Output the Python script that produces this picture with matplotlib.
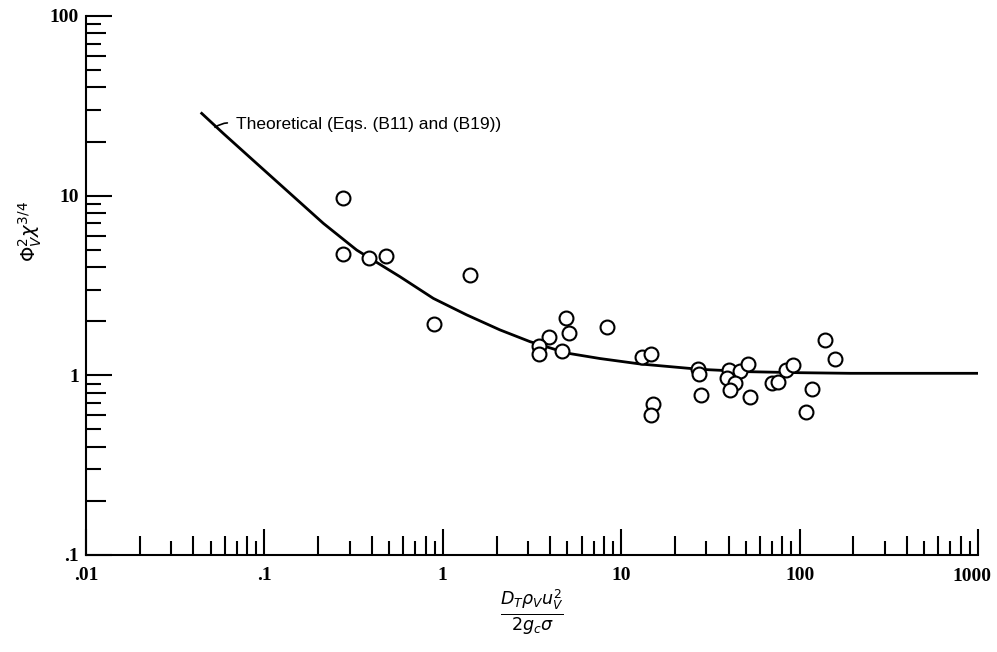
import numpy as np
import matplotlib.pyplot as plt
from matplotlib.ticker import FixedLocator, FixedFormatter, NullFormatter

# curva teórica (Eqs. B11 y B19)
curva_x = [0.0445, 0.0588, 0.0905, 0.139, 0.214, 0.329, 0.575, 0.885, 1.36, 2.09,
           3.08, 4.95, 7.6, 12.8, 27.6, 52.7, 100, 192, 1000]
curva_y = [28.7, 22.2, 15.1, 10.3, 7.01, 4.98, 3.54, 2.68, 2.17, 1.79,
           1.54, 1.33, 1.24, 1.156, 1.08, 1.047, 1.034, 1.026, 1.026]

# datos experimentales
datos_x = [0.276, 0.276, 0.386, 0.48, 1.42, 0.893,
           4.90, 3.94, 5.12, 8.32, 3.47, 3.47, 4.68,
           13.1, 14.7, 15.1, 14.6,
           27.0, 27.3, 28.1, 40.1, 39.2, 46.3, 43.4, 40.7, 51.6, 52.7,
           69.8, 76.0, 83.9, 92.2, 139, 158, 118, 108]
datos_y = [9.7, 4.73, 4.5, 4.6, 3.62, 1.93,
           2.08, 1.63, 1.71, 1.86, 1.46, 1.31, 1.37,
           1.26, 1.31, 0.695, 0.60,
           1.08, 1.02, 0.777, 1.07, 0.966, 1.06, 0.902, 0.828, 1.156, 0.76,
           0.91, 0.92, 1.07, 1.137, 1.57, 1.23, 0.842, 0.625]

xt = [0.01, 0.1, 1, 10, 100, 1000]
xt_labels = ['.01', '.1', '1', '10', '100', '1000']
yt = [0.1, 1, 10, 100]
yt_labels = ['.1', '1', '10', '100']

fig = plt.figure(figsize=(9.97, 6.52), dpi=100)
ax = fig.add_axes([0.0863, 0.1488, 0.8946, 0.8267])

ax.plot(curva_x, curva_y, color='black', lw=2.0)
ax.plot(datos_x, datos_y, 'o', ms=10, mfc='white', mec='black', mew=1.5)

ax.set_xscale('log')
ax.set_yscale('log')
ax.set_xlim(0.01, 1000)
ax.set_ylim(0.1, 100)

for s in ['top', 'right']:
    ax.spines[s].set_visible(False)
for s in ['left', 'bottom']:
    ax.spines[s].set_linewidth(1.5)

fuente = {'family': 'Liberation Serif', 'weight': 'bold', 'size': 14}

def marcas(eje, mayores, etiquetas, largo_may, largo_par, largo_impar):
    menores = []
    for d in mayores[:-1]:
        for k in range(2, 10):
            menores.append(d * k)
    eje.set_major_locator(FixedLocator(mayores))
    eje.set_major_formatter(FixedFormatter(etiquetas))
    eje.set_minor_locator(FixedLocator(menores))
    eje.set_minor_formatter(NullFormatter())
    for t in eje.get_major_ticks(len(mayores)):
        t.tick1line.set_markersize(largo_may)
    for i, t in enumerate(eje.get_minor_ticks(len(menores))):
        k = i % 8 + 2
        t.tick1line.set_markersize(largo_par if k % 2 == 0 else largo_impar)

ax.tick_params(which='both', direction='in', width=1.5, color='black')
ax.tick_params(axis='x', which='major', pad=9)
ax.tick_params(axis='y', which='major', pad=5)
# la última etiqueta del eje x se escribe aparte, corrida a la izquierda
marcas(ax.xaxis, xt, xt_labels[:-1] + [''], 18.7, 13.7, 10.1)
marcas(ax.yaxis, yt, yt_labels, 18.7, 14.4, 10.8)
for lab in ax.get_xticklabels() + ax.get_yticklabels():
    lab.set_fontproperties(fuente)
ax.annotate(xt_labels[-1], xy=(xt[-1], 0), xycoords=('data', 'axes fraction'),
            xytext=(-4, -9.5), textcoords='offset points', ha='center', va='top',
            fontproperties=fuente)

ax.annotate('Theoretical (Eqs. (B11) and (B19))', xy=(0.0529, 24.0), xytext=(0.069, 25.0),
            fontsize=12.5, family=['Liberation Sans', 'DejaVu Sans'],
            va='center', ha='left',
            arrowprops=dict(arrowstyle='-', color='black', lw=1.2, relpos=(0, 0.5),
                            connectionstyle='arc3,rad=0.25', shrinkA=4, shrinkB=0))

ax.set_xlabel(r'$\frac{D_T\rho_V u_V^2}{2g_c\sigma}$', fontsize=18, labelpad=2)
fig.text(0.03, 0.645, r'$\Phi_V^2\chi^{3/4}$', rotation=90, fontsize=14,
         ha='center', va='center')

fig.savefig('out.png', dpi=100)
